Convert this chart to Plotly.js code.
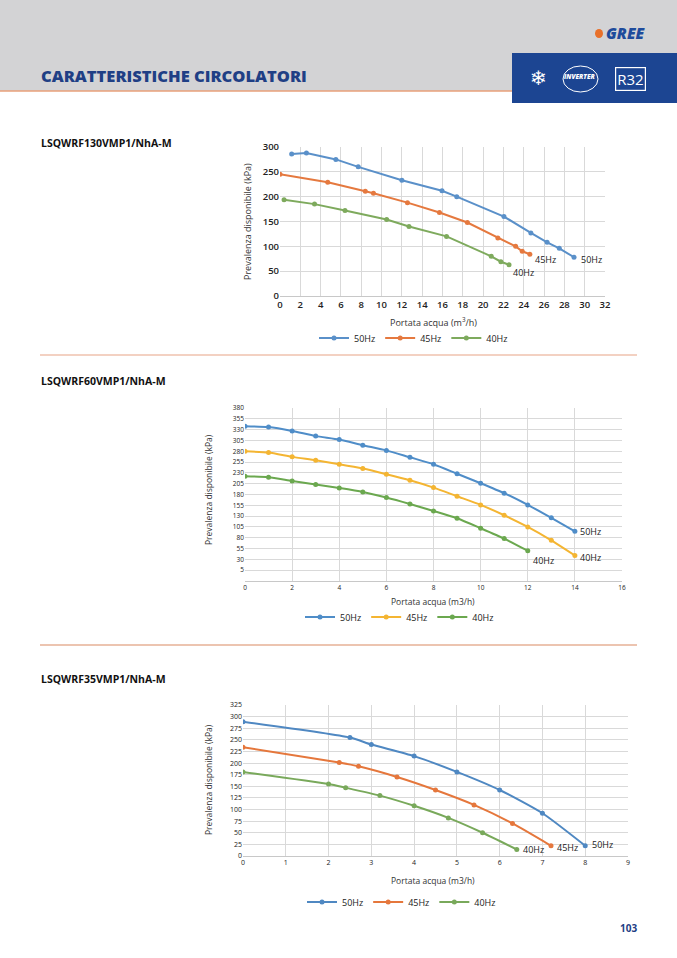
<!DOCTYPE html>
<html>
<head>
<meta charset="utf-8">
<script src="https://cdn.plot.ly/plotly-3.0.1.min.js"></script>
<style>
  html, body { margin: 0; padding: 0; background: #ffffff; }
  #page { width: 677px; height: 958px; }
</style>
</head>
<body>
<div id="page"></div>
<script>
// LSQWRF130VMP1/NhA-M  (portata m3/h, prevalenza kPa)
const q130_50 = [1.15, 2.6, 5.5, 7.7, 12.0, 15.95, 17.4, 22.05, 24.7, 26.3, 27.5, 28.95];
const h130_50 = [286, 288, 275, 260, 233, 212, 200, 160, 127, 108, 96, 78];
const q130_45 = [0, 4.7, 8.4, 9.2, 12.55, 15.7, 18.45, 21.45, 23.2, 23.85, 24.6];
const h130_45 = [245, 229, 211, 207, 188, 168, 148, 117, 100, 90, 84];
const q130_40 = [0.4, 3.4, 6.4, 10.5, 12.7, 16.4, 20.8, 21.75, 22.55];
const h130_40 = [194, 185, 172, 154, 140, 120, 80, 69, 63];

// LSQWRF60VMP1/NhA-M
const q60 = [0, 1, 2, 3, 4, 5, 6, 7, 8, 9, 10, 11, 12, 13, 14];
const h60_50 = [338, 336, 327, 315, 307, 294, 282, 266, 250, 228, 206, 183, 156, 126, 95];
const h60_45 = [280, 277, 267, 259, 250, 240, 227, 213, 196, 176, 156, 132, 105, 74, 39];
const h60_40 = [222, 220, 211, 203, 195, 186, 173, 158, 142, 125, 102, 78, 50];
const y60_ticks = [5, 30, 55, 80, 105, 130, 155, 180, 205, 230, 255, 280, 305, 330, 355, 380];

// LSQWRF35VMP1/NhA-M
const q35_50 = [0, 2.5, 3, 4, 5, 6, 7, 8];
const h35_50 = [289, 255, 240, 215, 181, 142, 92, 22];
const q35_45 = [0, 2.25, 2.7, 3.6, 4.5, 5.4, 6.3, 7.2];
const h35_45 = [234, 201, 193, 170, 142, 110, 70, 22];
const q35_40 = [0, 2, 2.4, 3.2, 4, 4.8, 5.6, 6.4];
const h35_40 = [181, 155, 147, 130, 108, 82, 50, 14];

const W = 677, H = 958;
function px(x) { return x / W; }
function py(y) { return 1 - y / H; }

const navy = '#1f3f85';
const txt = '#333333';
const grid = '#d9d9d9';

function serie(x, y, name, color, ax, legend, shape) {
  return {
    x: x, y: y, name: name, type: 'scatter', mode: 'lines+markers',
    xaxis: ax[0], yaxis: ax[1], legend: legend,
    line: { color: color, width: 2, shape: shape, smoothing: 0.6 },
    marker: { color: color, size: 5 }
  };
}

let data = [
  serie(q130_50, h130_50, '50Hz', '#5a90c9', ['x', 'y'], 'legend', 'linear'),
  serie(q130_45, h130_45, '45Hz', '#e5793f', ['x', 'y'], 'legend', 'linear'),
  serie(q130_40, h130_40, '40Hz', '#7eaa5d', ['x', 'y'], 'legend', 'linear'),
  serie(q60, h60_50, '50Hz', '#4f8dc8', ['x2', 'y2'], 'legend2', 'spline'),
  serie(q60, h60_45, '45Hz', '#f4b532', ['x2', 'y2'], 'legend2', 'spline'),
  serie(q60.slice(0, h60_40.length), h60_40, '40Hz', '#6ba84f', ['x2', 'y2'], 'legend2', 'spline'),
  serie(q35_50, h35_50, '50Hz', '#4f88c2', ['x3', 'y3'], 'legend3', 'spline'),
  serie(q35_45, h35_45, '45Hz', '#e5773c', ['x3', 'y3'], 'legend3', 'spline'),
  serie(q35_40, h35_40, '40Hz', '#79a95b', ['x3', 'y3'], 'legend3', 'spline')
];

function xax(domain, range, dtick, size, anchor) {
  return {
    domain: domain, range: range, dtick: dtick, anchor: anchor,
    showgrid: true, gridcolor: grid, gridwidth: 1, zeroline: false,
    showline: true, linecolor: '#c8c8c8', ticks: '',
    tickfont: { family: 'Open Sans', size: size, color: '#222' }, fixedrange: true
  };
}
function yax(domain, range, size, anchor) {
  return {
    domain: domain, range: range, anchor: anchor,
    showgrid: true, gridcolor: grid, gridwidth: 1, zeroline: false,
    showline: false, ticks: '',
    tickfont: { family: 'Open Sans', size: size, color: '#222' }, fixedrange: true
  };
}

let x1 = xax([px(280), px(605)], [0, 32], 2, 9.5, 'y');
x1.tickfont.weight = 600;
let y1 = yax([py(296), py(147)], [0, 300], 9.5, 'x');
y1.tickfont.weight = 600;
y1.dtick = 50;
let x2 = xax([px(245), px(622)], [0, 16], 2, 6.5, 'y2');
let y2 = yax([py(581), py(408)], [-20, 380], 6.5, 'x2');
y2.tickvals = y60_ticks;
let x3 = xax([px(243), px(628)], [0, 9], 1, 7, 'y3');
let y3 = yax([py(856), py(705)], [0, 325], 7, 'x3');
y3.dtick = 25;

function note(text, x, y, size, opts) {
  let a = {
    text: text, x: x, y: y, xref: 'paper', yref: 'paper', showarrow: false,
    xanchor: 'left', yanchor: 'middle',
    font: { family: 'Open Sans', size: size, color: txt }
  };
  return Object.assign(a, opts || {});
}
function lab(text, x, y, xr, yr, size) {
  return {
    text: text, x: x, y: y, xref: xr, yref: yr, showarrow: false,
    xanchor: 'left', yanchor: 'middle',
    font: { family: 'Open Sans', size: size, color: '#222' }
  };
}

let annotations = [
  // header
  note('CARATTERISTICHE CIRCOLATORI', px(39), py(75), 16.5,
    { font: { family: 'Open Sans', size: 16.5, color: navy, weight: 800 } }),
  note('GREE', px(604), py(33), 15.5,
    { font: { family: 'Open Sans', size: 15.5, color: '#1e4b9c', weight: 800, style: 'italic' } }),
  note('❄', px(528), py(78), 20, { font: { family: 'DejaVu Sans', size: 20, color: '#ffffff' } }),
  note('INVERTER', px(562), py(76), 6.5,
    { font: { family: 'Open Sans', size: 6.5, color: '#ffffff', weight: 800, style: 'italic' } }),
  note('R32', px(630), py(79), 15,
    { xanchor: 'center', borderpad: 1, bordercolor: '#ffffff', borderwidth: 1.2,
      font: { family: 'Open Sans', size: 15, color: '#ffffff' } }),
  // model labels
  note('LSQWRF130VMP1/NhA-M', px(39), py(143), 10.5,
    { font: { family: 'Open Sans', size: 10.5, color: '#111', weight: 700 } }),
  note('LSQWRF60VMP1/NhA-M', px(39), py(381), 10.5,
    { font: { family: 'Open Sans', size: 10.5, color: '#111', weight: 700 } }),
  note('LSQWRF35VMP1/NhA-M', px(39), py(679), 10.5,
    { font: { family: 'Open Sans', size: 10.5, color: '#111', weight: 700 } }),
  note('103', px(628), py(928), 10,
    { xanchor: 'center', font: { family: 'Open Sans', size: 10, color: navy, weight: 700 } }),
  // axis titles
  note('Portata acqua (m<sup>3</sup>/h)', px(433), py(322), 9, { xanchor: 'center' }),
  note('Prevalenza disponibile (kPa)', px(248), py(221), 9, { xanchor: 'center', textangle: -90 }),
  note('Portata acqua (m3/h)', px(433), py(601), 8.5, { xanchor: 'center' }),
  note('Prevalenza disponibile (kPa)', px(208), py(490), 8.5, { xanchor: 'center', textangle: -90 }),
  note('Portata acqua (m3/h)', px(433), py(880), 8.5, { xanchor: 'center' }),
  note('Prevalenza disponibile (kPa)', px(208), py(780), 8.5, { xanchor: 'center', textangle: -90 }),
  // series end labels
  lab('45Hz', 24.9, 73, 'x', 'y', 9),
  lab('50Hz', 29.4, 73, 'x', 'y', 9),
  lab('40Hz', 22.7, 48, 'x', 'y', 9),
  lab('50Hz', 14.15, 94, 'x2', 'y2', 9),
  lab('40Hz', 14.15, 35, 'x2', 'y2', 9),
  lab('40Hz', 12.15, 28, 'x2', 'y2', 9),
  lab('50Hz', 8.12, 25, 'x3', 'y3', 9),
  lab('45Hz', 7.3, 19, 'x3', 'y3', 9),
  lab('40Hz', 6.5, 14, 'x3', 'y3', 9)
];

let shapes = [
  { type: 'rect', xref: 'paper', yref: 'paper', x0: 0, x1: 1, y0: py(91), y1: 1,
    fillcolor: '#d3d3d5', line: { width: 0 }, layer: 'below' },
  { type: 'line', xref: 'paper', yref: 'paper', x0: 0, x1: px(513), y0: py(91), y1: py(91),
    line: { color: '#e9a07a', width: 1.5 } },
  { type: 'rect', xref: 'paper', yref: 'paper', x0: px(512), x1: 1, y0: py(103), y1: py(53),
    fillcolor: '#1c4592', line: { width: 0 } },
  { type: 'circle', xref: 'paper', yref: 'paper', x0: px(595), x1: px(603), y0: py(38), y1: py(29),
    fillcolor: '#e8702a', line: { width: 0 } },
  { type: 'circle', xref: 'paper', yref: 'paper', x0: px(563), x1: px(598), y0: py(92), y1: py(66),
    line: { color: '#ffffff', width: 1 } },
  { type: 'line', xref: 'paper', yref: 'paper', x0: px(40), x1: px(637), y0: py(355), y1: py(355),
    line: { color: '#efc2ae', width: 1.5 } },
  { type: 'line', xref: 'paper', yref: 'paper', x0: px(40), x1: px(637), y0: py(645), y1: py(645),
    line: { color: '#e6b096', width: 1.5 } }
];

function leg(x, y) {
  return {
    orientation: 'h', x: px(x), y: py(y), xanchor: 'left', yanchor: 'middle',
    bgcolor: 'rgba(0,0,0,0)', itemwidth: 30, tracegroupgap: 0,
    font: { family: 'Open Sans', size: 9, color: '#222' }
  };
}

let layout = {
  width: W, height: H,
  margin: { l: 0, r: 0, t: 0, b: 0 },
  paper_bgcolor: '#ffffff', plot_bgcolor: '#ffffff',
  showlegend: true,
  xaxis: x1, yaxis: y1, xaxis2: x2, yaxis2: y2, xaxis3: x3, yaxis3: y3,
  legend: leg(314, 338),
  legend2: leg(300, 617),
  legend3: leg(302, 902),
  annotations: annotations,
  shapes: shapes
};

Plotly.newPlot('page', data, layout, { staticPlot: true });
</script>
</body>
</html>
